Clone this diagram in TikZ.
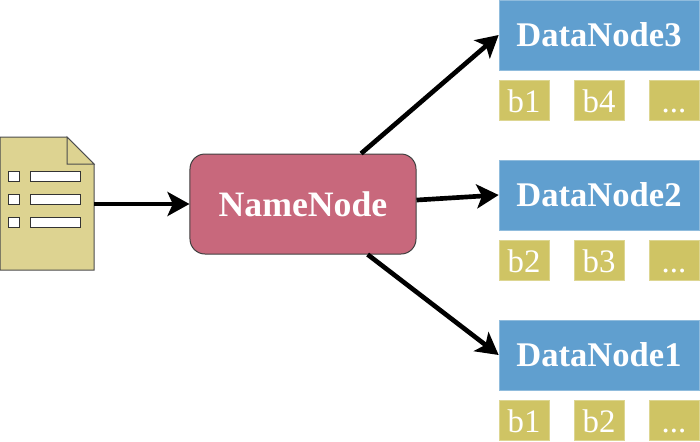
\documentclass[tikz,border=0pt]{standalone}
\usepackage{fontspec}
\setmainfont{Liberation Serif}
\usepackage{xcolor}
\usetikzlibrary{arrows.meta}
\definecolor{hdfs_red}{RGB}{200, 104, 124}
\definecolor{hdfs_blue}{RGB}{96, 159, 207}
\definecolor{hdfs_block}{RGB}{207, 196, 100}
\definecolor{hdfs_doc}{RGB}{221, 211, 145}
\begin{document}
\begin{tikzpicture}[
        x=0.03cm, y=-0.03cm,
        every node/.style={text=white, inner sep=0pt},
        namebox/.style={draw=black!75, fill=hdfs_red, rounded corners=0.45cm, line width=0.03cm,
                    minimum width=6.78cm, minimum height=3cm, font=\fontsize{30.5}{30.5}\selectfont\bfseries},
        databox/.style={draw=hdfs_blue!70!white, fill=hdfs_blue, line width=0.02cm,
                    minimum width=6cm, minimum height=2.1cm, font=\fontsize{29.5}{29.5}\selectfont\bfseries},
        blockbox/.style={draw=hdfs_block!70!white, fill=hdfs_block, line width=0.02cm,
                    minimum width=1.5cm, minimum height=1.2cm, text height=0.72cm, text depth=0cm,
                    font=\fontsize{28}{28}\selectfont},
        docrow/.style={draw=black!80, fill=white, line width=0.03cm},
        link/.style={-{Stealth[length=0.66cm, width=0.72cm, inset=0.16cm]}, black, line width=0.14cm},
      ]
        \useasboundingbox (0,0) rectangle (700,441);

        \node[namebox]  (name) at (303,204)   {NameNode};
        \node[databox]  (dn3)  at (599,35)    {DataNode3};
        \node[databox]  (dn2)  at (599,195)   {DataNode2};
        \node[databox]  (dn1)  at (599,355)   {DataNode1};

        \node[blockbox] (b31) at (524,100) {b1};
        \node[blockbox] (b32) at (599,100) {b4};
        \node[blockbox] (b33) at (674,100) {...};
        \node[blockbox] (b21) at (524,260) {b2};
        \node[blockbox] (b22) at (599,260) {b3};
        \node[blockbox] (b23) at (674,260) {...};
        \node[blockbox] (b11) at (524,420) {b1};
        \node[blockbox] (b12) at (599,420) {b2};
        \node[blockbox] (b13) at (674,420) {...};

        % file icon
        \node[minimum width=2.82cm, minimum height=3.99cm] (doc) at (47,204) {};
        \draw[black!70, fill=hdfs_doc, line width=0.03cm]
          (0,137) -- (67,137) -- (94,164) -- (94,270) -- (0,270) -- cycle;
        \draw[black!70, fill=hdfs_doc, line width=0.03cm]
          (67,137) -- (94,164) -- (67,164) -- cycle;
        \foreach \y in {171,194,217} {
          \draw[docrow] (8,\y) rectangle (19,\y+10);
          \draw[docrow] (30,\y) rectangle (80,\y+10);
        }

        \draw[link] (doc.east)  -- (name.west);
        \draw[link] (name.41)   -- (dn3.west);
        \draw[link] (name.2.5)  -- (dn2.west);
        \draw[link] (name.-38)  -- (dn1.west);
      \end{tikzpicture}
\end{document}
